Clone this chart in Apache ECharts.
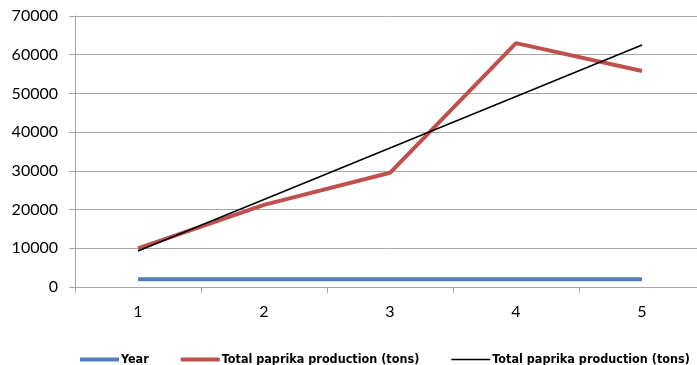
<!DOCTYPE html>
<html><head><meta charset="utf-8">
<script src="https://cdn.jsdelivr.net/npm/echarts@6/dist/echarts.min.js"></script>
<style>html,body{margin:0;padding:0;background:#fff}#c{width:697px;height:365px}</style>
</head><body><div id="c"></div>
<script>
const categories = ['1','2','3','4','5'];
const yearValues = [2010, 2010, 2010, 2010, 2010];
const productionValues = [10000, 21200, 29500, 63000, 55800];
const trendValues = [9300, 22600, 35900, 49200, 62500];
const seriesNames = ['Year', 'Total paprika production (tons)', 'Total paprika production (tons)'];

const chart = echarts.init(document.getElementById('c'));
const font = 'Lato, "Open Sans", sans-serif';
const legendFont = '"Liberation Sans Narrow", "DejaVu Sans Condensed", Lato, sans-serif';
chart.setOption({
  animation: false,
  grid: {left: 75, width: 630, top: 16, bottom: 78, containLabel: false, outerBoundsMode: 'none'},
  legend: {
    top: 353, left: 80, width: 640, padding: 0, itemGap: 32, itemWidth: 39, itemHeight: 4,
    textStyle: {fontFamily: legendFont, fontSize: 12.5, fontWeight: 'bold', color: '#000', padding: [0,0,0,-3]},
    data: [
      {name: 'Year', icon: 'rect', itemStyle: {color: '#4f81bd'}},
      {name: 'p1', icon: 'rect', itemStyle: {color: '#c0504d'}},
      {name: 'p2', icon: 'path://M0,0L40,0L40,1.6L0,1.6Z', itemStyle: {color: '#000'}}
    ],
    formatter: n => n === 'Year' ? 'Year' : seriesNames[1]
  },
  xAxis: {
    type: 'category', data: categories, boundaryGap: true,
    axisLine: {lineStyle: {color: '#a6a6a6', width: 1}},
    axisTick: {show: true, length: 6, lineStyle: {color: '#a6a6a6'}},
    axisLabel: {fontFamily: font, fontSize: 16, color: '#000', margin: 17}
  },
  yAxis: {
    type: 'value', min: 0, max: 70000, interval: 10000,
    axisLine: {show: true, lineStyle: {color: '#a6a6a6'}},
    axisTick: {show: true, length: 6, lineStyle: {color: '#a6a6a6'}},
    splitLine: {lineStyle: {color: '#a6a6a6', width: 1}},
    axisLabel: {fontFamily: font, fontSize: 16, color: '#000', margin: 17, formatter: v => String(v)}
  },
  series: [
    {name: 'Year', type: 'line', data: yearValues, symbol: 'none', lineStyle: {color: '#4f81bd', width: 4}, itemStyle: {color: '#4f81bd'}},
    {name: 'p1', type: 'line', data: productionValues, symbol: 'none', lineStyle: {color: '#c0504d', width: 4}, itemStyle: {color: '#c0504d'}},
    {name: 'p2', type: 'line', data: trendValues, symbol: 'none', lineStyle: {color: '#000', width: 1.5}, itemStyle: {color: '#000'}}
  ]
});
</script></body></html>
